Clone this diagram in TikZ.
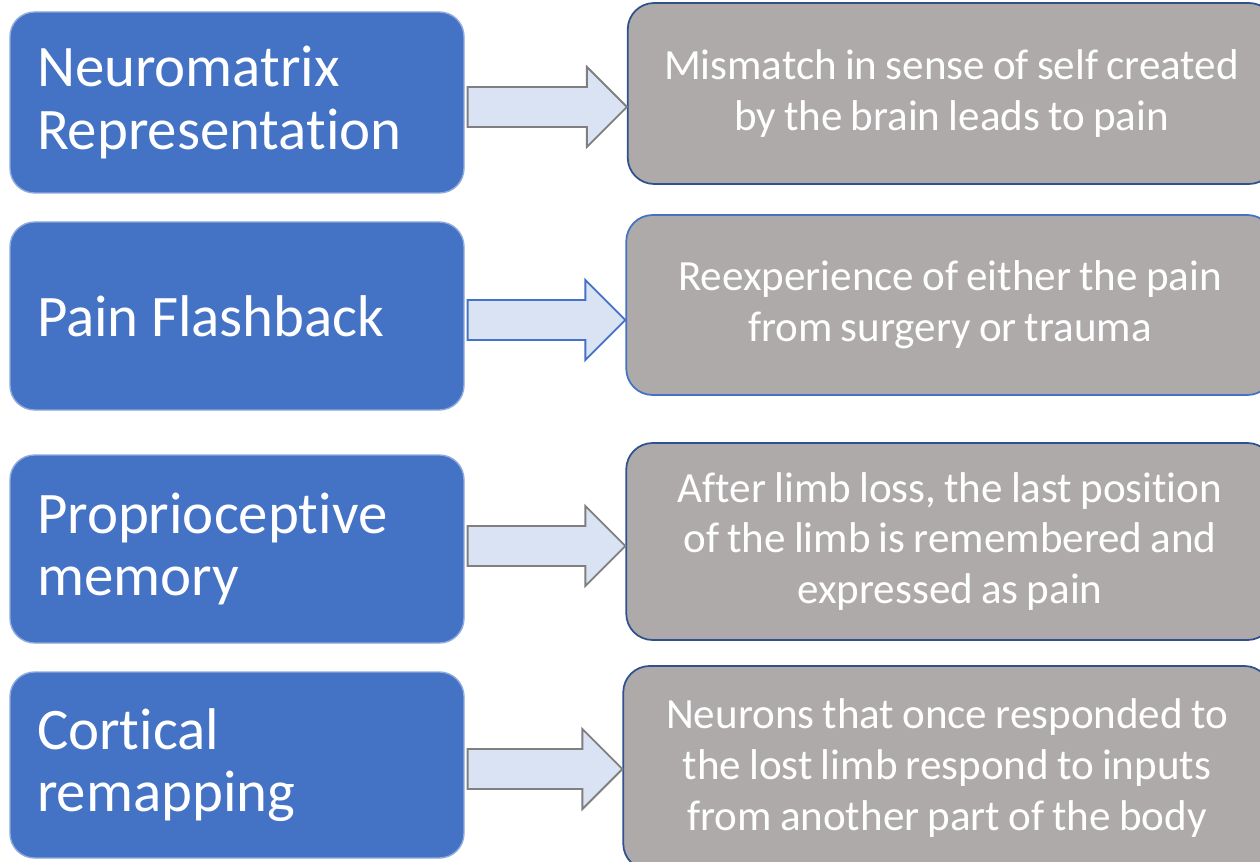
\documentclass[tikz,border=0pt]{standalone}
\usepackage{fontspec}
\setmainfont{Carlito}[Ligatures=NoCommon]
\usetikzlibrary{calc}
\definecolor{mechblue}{HTML}{4472C4}
\definecolor{mechedge}{HTML}{8FAADC}
\definecolor{effgray}{HTML}{AEAAAA}
\definecolor{effedge}{HTML}{2F528F}
\definecolor{arrfill}{HTML}{DAE3F3}
\definecolor{arredge}{HTML}{7F7F7F}
\newcommand\tightspace[1]{\spaceskip=#1\relax\xspaceskip=#1\relax}

\begin{document}
\begin{tikzpicture}[
    mech/.style={rounded corners=14pt, draw=mechedge, line width=0.8pt, fill=mechblue, text=white, minimum width=9.08cm, text width=8cm, align=left, inner sep=0pt, font=\fontsize{33.5}{35.5}\selectfont, execute at begin node=\tightspace{0.21em}},
    effect/.style={rounded corners=15pt, draw=effedge, line width=1pt, fill=effgray, text=white, minimum width=12.95cm, text width=12.5cm, align=center, inner sep=0pt, font=\fontsize{24.5}{29}\selectfont, execute at begin node=\tightspace{0.19em}},
    blockarrow/.style={draw=arredge, line width=1.1pt, fill=arrfill, line join=miter},
]
\useasboundingbox (0,0) rectangle (25.2,-17.24);

% Mechanisms
\node[mech, minimum height=3.62cm] (neuro) at (4.74,-2.05) {Neuromatrix\\Representation};
\node[mech, minimum height=3.76cm] (flash) at (4.74,-6.32) {Pain Flashback};
\node[mech, minimum height=3.76cm] (proprio) at (4.74,-10.98) {Proprioceptive\\memory};
\node[mech, minimum height=3.72cm] (cortical) at (4.74,-15.3) {Cortical\\remapping};

% Explanations
\node[effect, minimum height=3.62cm] (mismatch) at (19.03,-1.87) {Mismatch in sense of self created\\by the brain leads to pain};
\node[effect, draw=mechblue, minimum height=3.6cm] (reexp) at (19.0,-6.1) {Reexperience of either the pain\\from surgery or trauma};
\node[effect, minimum height=3.94cm] (afterloss) at (19.0,-10.83) {After limb loss, the last position\\of the limb is remembered and\\expressed as pain};
\node[effect, minimum height=4.08cm] (neurons) at (18.94,-15.36) {Neurons that once responded to\\the lost limb respond to inputs\\from another part of the body};

% Block arrows
\foreach \src/\dst/\edge/\dy in {neuro/mismatch/arredge/-0.09, flash/reexp/mechblue/-0.08, proprio/afterloss/arredge/0.06, cortical/neurons/arredge/-0.08} {
  \coordinate (s) at ($(\src.east)+(0.06,\dy)$);
  \coordinate (t) at (\dst.west |- s);
  \draw[blockarrow, draw=\edge] ($(s)+(0,0.4)$) -- ($(t)+(-0.8,0.4)$) -- ($(t)+(-0.8,0.8)$) -- (t)
    -- ($(t)+(-0.8,-0.8)$) -- ($(t)+(-0.8,-0.4)$) -- ($(s)+(0,-0.4)$) -- cycle;
}

\end{tikzpicture}
\end{document}
